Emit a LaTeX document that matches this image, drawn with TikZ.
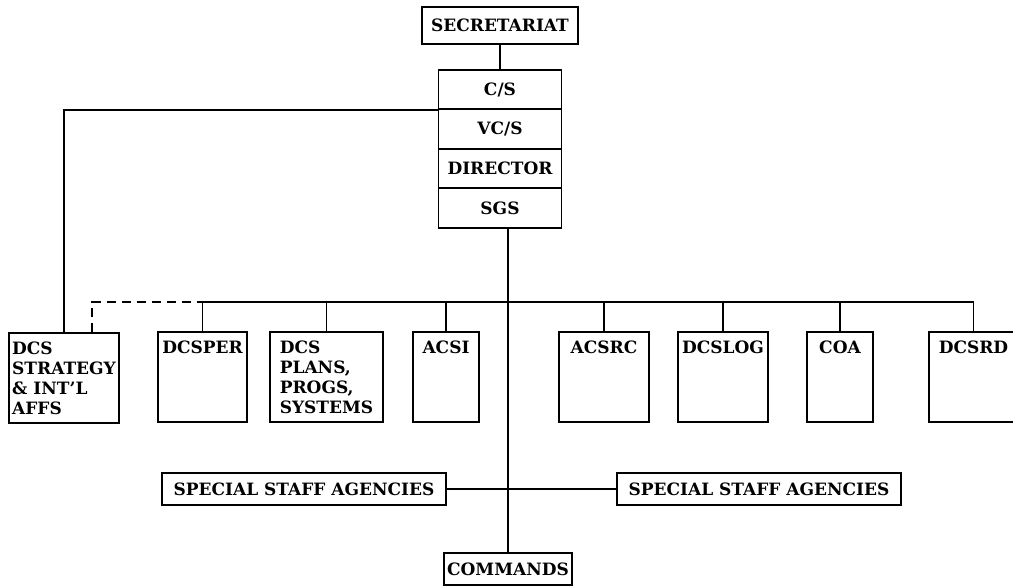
\documentclass[tikz,border=0pt]{standalone}
\usepackage{fontspec}
\setmainfont{DejaVu Serif}
\usepackage{tikz}
\usetikzlibrary{calc, positioning}

\newcommand{\chartfont}{\bfseries\fontsize{17}{20}\selectfont}
\tikzset{
    post/.style={draw, font=\chartfont, inner sep=0pt},
    unit/.style={post, minimum width=#1, text height=21pt, text depth=69pt},
    wide/.style={post, align=left, minimum width=#1, minimum height=90pt},
}

\begin{document}
\begin{tikzpicture}[x=1pt, y=-1pt, line width=1.8pt]
    \useasboundingbox (0,0) rectangle (1013,586);

    % command group
    \node[post, minimum width=156, minimum height=37] (sec) at (500,25.5) {SECRETARIAT};
    \node[post, minimum width=123, minimum height=39.5] (cs) at (500,89.5) {C/S};
    \node[post, minimum width=123, minimum height=39.5] (vcs) at (500,129) {VC/S};
    \node[post, minimum width=123, minimum height=39.5] (dir) at (500,168.5) {DIRECTOR};
    \node[post, minimum width=123, minimum height=39.5] (sgs) at (500,208) {SGS};
    \draw (sec) -- (cs);

    % staff row
    \node[wide=110] (strat) at (64,378) {DCS\\STRATEGY\\\& INT'L\\AFFS};
    \node[unit=89] (per) at (202.5,377) {DCSPER};
    \node[wide=113] (plans) at (326.5,377) {DCS\\PLANS,\\PROGS,\\SYSTEMS};
    \node[unit=66] (acsi) at (446,377) {ACSI};
    \node[unit=90] (acsrc) at (604,377) {ACSRC};
    \node[unit=90] (log) at (723,377) {DCSLOG};
    \node[unit=66] (coa) at (840,377) {COA};
    \node[unit=89] (rd) at (973.5,377) {DCSRD};

    % bus
    \coordinate (bus) at (0,302);
    \draw (per.north) |- (rd.north |- bus) -- (rd.north);
    \foreach \n in {plans, acsi, acsrc, log, coa}
        \draw (\n.north) -- (\n.north |- bus);
    \draw[dash pattern=on 9pt off 6pt] ($(strat.north)+(28,0)$) |- (per.north |- bus);
    \draw (cs.south west) -| (strat.north);

    % lower part
    \node[post, minimum width=284, minimum height=32] (ssaL) at (304,489) {SPECIAL STAFF AGENCIES};
    \node[post, minimum width=284, minimum height=32] (ssaR) at (759,489) {SPECIAL STAFF AGENCIES};
    \node[post, minimum width=128, minimum height=32] (cmd) at (508,569) {COMMANDS};
    \draw (sgs.south -| cmd.north) -- (cmd.north);
    \draw (ssaL) -- (ssaR);
\end{tikzpicture}
\end{document}
